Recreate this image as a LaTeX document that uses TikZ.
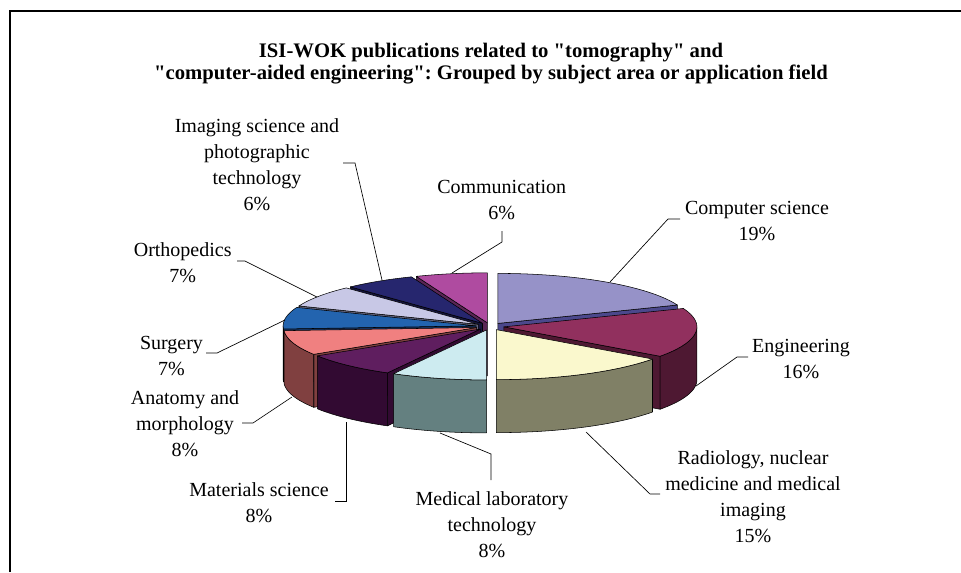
\documentclass[tikz,border=0pt]{standalone}
\usepackage{fontspec}
\setmainfont{Liberation Serif}
\definecolor{cstop}{RGB}{150,146,200}\definecolor{csside}{RGB}{75,72,140}
\definecolor{entop}{RGB}{145,48,94}\definecolor{enside}{RGB}{78,24,50}
\definecolor{ratop}{RGB}{250,248,205}\definecolor{raside}{RGB}{128,128,102}
\definecolor{metop}{RGB}{205,235,240}\definecolor{meside}{RGB}{100,128,128}
\definecolor{matop}{RGB}{95,30,95}\definecolor{maside}{RGB}{50,10,50}
\definecolor{antop}{RGB}{240,128,128}\definecolor{anside}{RGB}{128,64,64}
\definecolor{sutop}{RGB}{35,100,175}\definecolor{suside}{RGB}{20,50,95}
\definecolor{ortop}{RGB}{200,200,230}\definecolor{orside}{RGB}{100,100,125}
\definecolor{imtop}{RGB}{38,38,110}\definecolor{imside}{RGB}{20,20,60}
\definecolor{cotop}{RGB}{175,75,160}\definecolor{coside}{RGB}{90,38,85}
\newcommand\slicepos[2]{\pgfmathsetmacro\PM{(#1+#2)/2}%
  \pgfmathsetmacro\DX{490+14*sin(\PM)}%
  \pgfmathsetmacro\DY{326.4-14*50/193*cos(\PM)}}
\newcommand\topf[3]{\filldraw[pieline, fill=#3] (\DX,\DY) -- plot[domain=#1:#2, samples=50, variable=\t] ({\DX+193*sin(\t)},{\DY-50*cos(\t)}) -- cycle;}
\newcommand\wallf[3]{\filldraw[pieline, fill=#3] plot[domain=#1:#2, samples=40, variable=\t] ({\DX+193*sin(\t)},{\DY-50*cos(\t)}) -- plot[domain=#2:#1, samples=40, variable=\t] ({\DX+193*sin(\t)},{\DY-50*cos(\t)+53}) -- cycle;}
\newcommand\radf[2]{\filldraw[pieline, fill=#2] (\DX,\DY) -- ({\DX+193*sin(#1)},{\DY-50*cos(#1)}) -- ({\DX+193*sin(#1)},{\DY-50*cos(#1)+53}) -- (\DX,{\DY+53}) -- cycle;}
\newcommand\qq{\textquotedbl}
\begin{document}
\frenchspacing
\begin{tikzpicture}[x=0.75pt,y=-0.75pt,
  pieline/.style={draw=black, line width=0.4pt, line join=round},
  lbl/.style={font=\fontsize{15}{19.5}\selectfont, align=center, inner sep=0pt},
  leader/.style={draw=black, line width=0.5pt}]
\useasboundingbox (0,0) rectangle (961,572);
\fill[white] (0,0) rectangle (961,572);
\draw[line width=1.8pt] (10,572) -- (10,11) -- (961,11);
% title
\node[font=\bfseries\fontsize{15.5}{17}\selectfont, align=center, inner sep=0pt] (title) at (491,63.5)
  {ISI-WOK publications related to \qq tomography\qq{} and\\\qq computer-aided engineering\qq: Grouped by subject area or application field};
% slices, back to front
\slicepos{338.4}{360}\radf{338.4}{coside}\topf{338.4}{360}{cotop}
\slicepos{316.8}{338.4}\radf{316.8}{imside}\topf{316.8}{338.4}{imtop}
\slicepos{0}{68.4}\radf{68.4}{csside}\topf{0}{68.4}{cstop}
\slicepos{291.6}{316.8}\radf{291.6}{orside}\topf{291.6}{316.8}{ortop}
\slicepos{266.4}{291.6}\radf{266.4}{suside}\wallf{266.4}{270}{suside}\topf{266.4}{291.6}{sutop}
\slicepos{68.4}{126}\radf{126}{enside}\wallf{90}{126}{enside}\topf{68.4}{126}{entop}
\slicepos{237.6}{266.4}\radf{237.6}{anside}\wallf{237.6}{266.4}{anside}\topf{237.6}{266.4}{antop}
\slicepos{208.8}{237.6}\radf{208.8}{maside}\wallf{208.8}{237.6}{maside}\topf{208.8}{237.6}{matop}
\slicepos{126}{180}\wallf{126}{180}{raside}\topf{126}{180}{ratop}
\slicepos{180}{208.8}\wallf{180}{208.8}{meside}\topf{180}{208.8}{metop}
% labels
\node[lbl] (lim) at (257,164.5) {Imaging science and\\photographic\\technology\\6\%};
\node[lbl] (lco) at (501.7,200) {Communication\\6\%};
\node[lbl] (lcs) at (757,221) {Computer science\\19\%};
\node[lbl] (lor) at (182.7,263) {Orthopedics\\7\%};
\node[lbl] (len) at (801,359) {Engineering\\16\%};
\node[lbl] (lsu) at (171.5,356.5) {Surgery\\7\%};
\node[lbl] (lan) at (185,423.5) {Anatomy and\\morphology\\8\%};
\node[lbl] (lma) at (259,502.3) {Materials science\\8\%};
\node[lbl] (lme) at (492,525) {Medical laboratory\\technology\\8\%};
\node[lbl] (lra) at (753,497) {Radiology, nuclear\\medicine and medical\\imaging\\15\%};
% leader lines
\coordinate (cs1) at (610,282); \coordinate (cs2) at (668,219); \coordinate (cs3) at (680,219);
\coordinate (en1) at (696,386); \coordinate (en2) at (737,357); \coordinate (en3) at (748,357);
\coordinate (ra1) at (586,432); \coordinate (ra2) at (650,494); \coordinate (ra3) at (660,494);
\coordinate (me1) at (440,433); \coordinate (me2) at (491,454); \coordinate (me3) at (491,480);
\coordinate (ma1) at (346.7,422); \coordinate (ma2) at (346.7,501.7); \coordinate (ma3) at (335,501.7);
\coordinate (an1) at (292,397); \coordinate (an2) at (253,423); \coordinate (an3) at (242,423);
\coordinate (su1) at (285,320); \coordinate (su2) at (217,353); \coordinate (su3) at (206,353);
\coordinate (or1) at (317,297); \coordinate (or2) at (245,261); \coordinate (or3) at (237,261);
\coordinate (im1) at (382,280); \coordinate (im2) at (355,163); \coordinate (im3) at (343,163);
\coordinate (co1) at (452,273); \coordinate (co2) at (502,242); \coordinate (co3) at (502,231);
\draw[leader] (cs1) -- (cs2) -- (cs3);
\draw[leader] (en1) -- (en2) -- (en3);
\draw[leader] (ra1) -- (ra2) -- (ra3);
\draw[leader] (me1) -- (me2) -- (me3);
\draw[leader] (ma1) -- (ma2) -- (ma3);
\draw[leader] (an1) -- (an2) -- (an3);
\draw[leader] (su1) -- (su2) -- (su3);
\draw[leader] (or1) -- (or2) -- (or3);
\draw[leader] (im1) -- (im2) -- (im3);
\draw[leader] (co1) -- (co2) -- (co3);
\end{tikzpicture}
\end{document}
